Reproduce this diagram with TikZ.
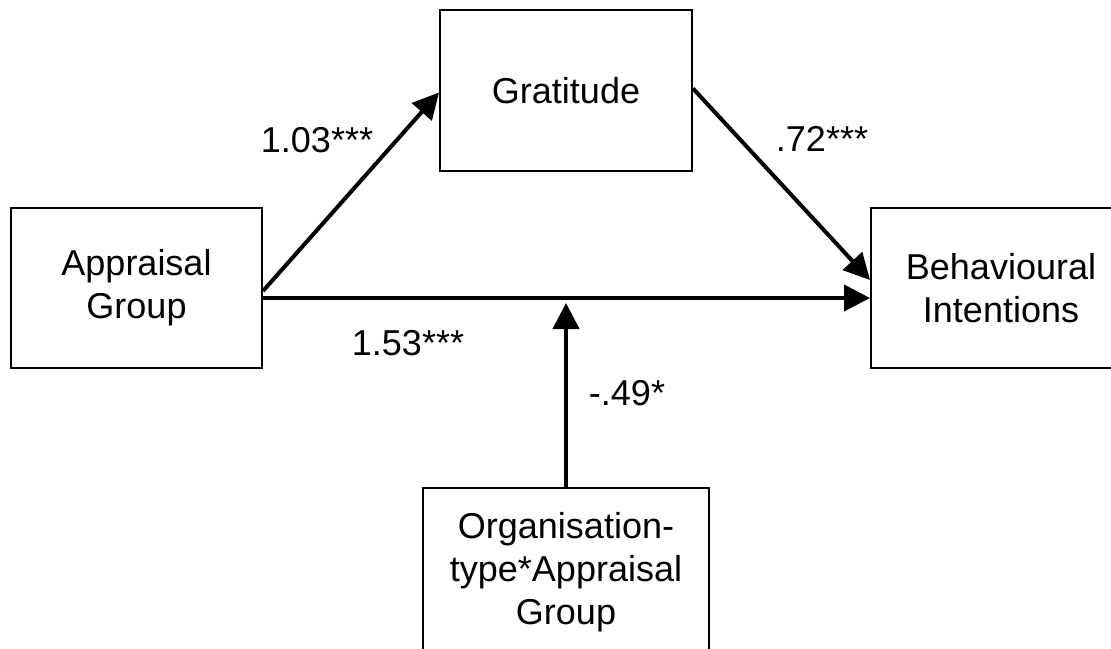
\documentclass[tikz,border=0pt]{standalone}
\usepackage{fontspec}
\setmainfont{Liberation Sans}
\usetikzlibrary{arrows.meta}
\tikzset{
  varbox/.style={draw=black, line width=2pt, fill=white, align=center, inner sep=0pt,
    font=\fontsize{36}{43}\selectfont},
  patharrow/.style={line width=4pt, -{Triangle[length=26pt,width=26pt]}},
  coef/.style={font=\fontsize{36}{43}\selectfont, inner sep=0pt, anchor=base}
}
\begin{document}
\begin{tikzpicture}[x=1pt,y=-1pt]
\useasboundingbox[fill=white] (0,0) rectangle (1111,648);
\node[varbox, minimum width=251pt, minimum height=160pt] (app) at (136.5,288) {Appraisal\\Group};
\node[varbox, minimum width=252pt, minimum height=161pt] (grat) at (566,90.5) {Gratitude};
\node[varbox, minimum width=260pt, minimum height=160pt] (bi) at (1001,288) {Behavioural\\Intentions};
\node[varbox, minimum width=286pt, minimum height=168pt] (org) at (566,572) {Organisation-\\type*Appraisal\\Group};
\coordinate (mid) at (566,298);
\draw[patharrow] ([yshift=-3pt]app.east) -- ([yshift=-2pt]grat.west);
\draw[patharrow] ([yshift=2pt]grat.east) -- ([yshift=8pt]bi.west);
\draw[patharrow] ([yshift=-10pt]app.east) -- ([yshift=-10pt]bi.west);
\draw[patharrow, shorten >=5pt] (org.north) -- (mid);
\node[coef] (c1) at (317,152) {1.03***};
\node[coef] (c2) at (822,151) {.72***};
\node[coef] (c3) at (408,355) {1.53***};
\node[coef] (c4) at (627,405) {-.49*};
\end{tikzpicture}
\end{document}
